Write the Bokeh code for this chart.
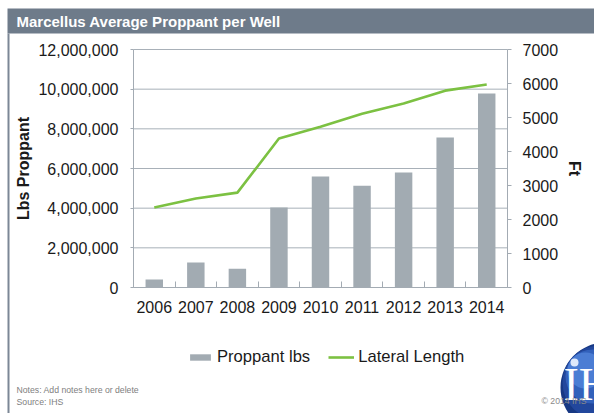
from bokeh.plotting import figure
from bokeh.models import (Range1d, LinearAxis, FixedTicker, NumeralTickFormatter,
                          Legend, LegendItem, BoxAnnotation, Label)
from bokeh.embed import file_html
from bokeh.resources import INLINE

years = ["2006", "2007", "2008", "2009", "2010", "2011", "2012", "2013", "2014"]
proppant_lbs = [400000, 1260000, 950000, 4030000, 5600000, 5130000, 5800000, 7560000, 9780000]
lateral_ft = [2350, 2620, 2790, 4380, 4730, 5110, 5410, 5790, 5970]
left_ticks = [0, 2000000, 4000000, 6000000, 8000000, 10000000, 12000000]
right_ticks = [0, 1000, 2000, 3000, 4000, 5000, 6000, 7000]

xs = [i + 1 for i in range(len(years))]
bounds = [i + 1.5 for i in range(len(years) - 1)]

FONT = "Liberation Sans"
AXIS_GRAY = "#a3abb3"
TXT = "#1a1a1a"
W, H = 594, 413
# plot area inside the canvas (pixels)
PL, PR, PT, PB = 133, 507, 49, 287

x_lo, x_hi = 0.5, len(years) + 0.5
y_max = left_ticks[-1]
f_max = right_ticks[-1]
kx = (x_hi - x_lo) / (PR - PL)
ky = y_max / (PB - PT)
kf = f_max / (PB - PT)

p = figure(width=W, height=H, output_backend="svg", toolbar_location=None,
           x_range=Range1d(x_lo - PL * kx, x_hi + (W - PR) * kx),
           y_range=Range1d(-(H - PB) * ky, y_max + PT * ky),
           x_axis_location=None, y_axis_location=None, min_border=0)
p.outline_line_color = None
p.background_fill_color = "white"
p.border_fill_color = "white"
p.grid.visible = False
p.extra_y_ranges = {"ft": Range1d(-(H - PB) * kf, f_max + PT * kf), "py": Range1d(H, 0)}
p.extra_x_ranges = {"px": Range1d(0, W)}

# ---- decorations (pixel coordinates) ----
def box(l, r, t, b, color, radius=0):
    p.add_layout(BoxAnnotation(left=l, right=r, top=t, bottom=b, fill_color=color,
                               fill_alpha=1, line_color=None, border_radius=radius,
                               x_range_name="px", y_range_name="py"))

def text(x, y, s, size, color, style="normal", font=FONT):
    p.add_layout(Label(x=x, y=y, text=s, text_baseline="middle", text_font=font,
                       text_font_size=size, text_color=color, text_font_style=style,
                       x_range_name="px", y_range_name="py"))

box(7, W, 8, 33, "#6e7b8a")
box(7, 9, 33, H, "#7c8796")
text(16, 21, "Marcellus Average Proppant per Well", "15px", "white", "bold")
text(16, 389, "Notes: Add notes here or delete", "8.7px", "#808080")
text(16, 401, "Source: IHS", "8.7px", "#808080")

# ---- grid lines over the plot area ----
p.segment(x0=[x_lo] * len(left_ticks), x1=[x_hi] * len(left_ticks),
          y0=left_ticks, y1=left_ticks, line_color="#a8b0b8", line_width=1)

bars = p.vbar(x=xs, top=proppant_lbs, width=0.42, fill_color="#a2abb2", line_color=None)
line = p.line(x=xs, y=lateral_ft, y_range_name="ft", line_color="#7cc142", line_width=2.6)

# ---- axes ----
xa = LinearAxis(fixed_location=0, bounds=(x_lo, x_hi),
                ticker=FixedTicker(ticks=xs, minor_ticks=bounds))
xa.major_label_overrides = {x: y for x, y in zip(xs, years)}
xa.axis_line_color = AXIS_GRAY
xa.major_tick_in = 0
xa.major_tick_out = 0
xa.minor_tick_in = 6
xa.minor_tick_out = 0
xa.minor_tick_line_color = AXIS_GRAY
xa.major_label_text_font = FONT
xa.major_label_text_font_size = "16px"
xa.major_label_text_color = TXT
xa.major_label_standoff = 13
p.add_layout(xa, "below")

ya = LinearAxis(fixed_location=x_lo, bounds=(0, y_max),
                ticker=FixedTicker(ticks=left_ticks, minor_ticks=[]))
ya.formatter = NumeralTickFormatter(format="0,0")
ya.axis_line_color = AXIS_GRAY
ya.major_tick_in = 0
ya.major_tick_out = 3
ya.major_tick_line_color = AXIS_GRAY
ya.minor_tick_line_color = None
ya.major_label_text_font = FONT
ya.major_label_text_font_size = "16px"
ya.major_label_text_color = TXT
ya.major_label_standoff = 12
ya.axis_label = "Lbs Proppant"
ya.axis_label_text_font = FONT
ya.axis_label_text_font_style = "bold"
ya.axis_label_text_font_size = "16px"
ya.axis_label_text_color = TXT
ya.axis_label_standoff = 3
p.add_layout(ya, "left")

ra = LinearAxis(fixed_location=x_hi, y_range_name="ft", bounds=(0, f_max),
                ticker=FixedTicker(ticks=right_ticks, minor_ticks=[]))
ra.axis_line_color = AXIS_GRAY
ra.major_tick_in = 0
ra.major_tick_out = 4
ra.major_tick_line_color = AXIS_GRAY
ra.minor_tick_line_color = None
ra.major_label_text_font = FONT
ra.major_label_text_font_size = "16px"
ra.major_label_text_color = TXT
ra.major_label_standoff = 11
ra.axis_label = "Ft"
ra.axis_label_text_font = FONT
ra.axis_label_text_font_style = "bold"
ra.axis_label_text_font_size = "16px"
ra.axis_label_text_color = TXT
ra.axis_label_standoff = 5
p.add_layout(ra, "right")

legend = Legend(items=[LegendItem(label="Proppant lbs", renderers=[bars]),
                       LegendItem(label="Lateral Length", renderers=[line])],
                orientation="horizontal", location=(187, 46),
                border_line_color=None, background_fill_alpha=0,
                glyph_width=26, glyph_height=8, label_standoff=4, spacing=18,
                label_text_font=FONT, label_text_font_size="16.6px", label_text_color=TXT,
                padding=0, margin=0)
p.add_layout(legend)

# ---- logo and copyright ----
box(560, 650, 342, 432, "#173883", 45)
box(562, 636, 345, 419, "#22479c", 37)
box(565, 619, 349, 403, "#3261bb", 27)
box(567, 603, 352, 388, "#4b7dd4", 18)
box(570, 578, 358, 366, "#dfe9fb", 4)
text(563, 384, "IH", "46px", "white", font="Liberation Serif")
text(541, 400, "\u00a9 2014 IHS", "8.7px", "#8a8a8a")

open("out.html", "w").write(file_html(p, INLINE))
